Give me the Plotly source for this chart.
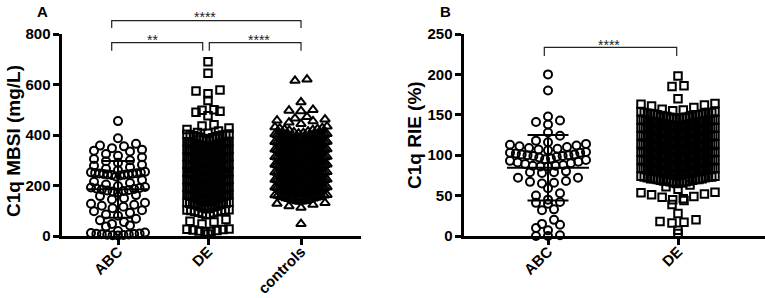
import numpy as np
import plotly.graph_objects as go

W, H = 765, 298

# ---------------- data ----------------
# Panel A: C1q MBSI (mg/L)
a_categories = ["ABC", "DE", "controls"]
a_abc = [455, 387, 365, 358, 355, 348, 342, 338, 335, 325, 318, 312, 305, 300, 296, 290,
         282, 278, 272, 266, 260,
         254, 252, 251, 250, 249, 248, 247, 246, 245, 244, 243, 242, 240, 236,
         222, 215, 210, 204, 198,
         194, 192, 190, 188, 186, 184, 182, 180, 178, 176, 172,
         162, 158, 150, 145, 132, 128, 124, 120, 116, 110, 102, 98, 92, 85, 80,
         68, 62, 55, 48, 42, 38, 20, 14, 12, 10, 9, 8, 7, 6, 5, 4, 3, 2]

a_de_high = [690, 645, 578, 574, 563, 537, 500, 498, 494, 490, 476, 441, 436,
             428, 422, 416, 410, 407,
             382, 386, 389, 391, 393, 395, 397, 398, 400, 401, 402, 403, 404, 379]
a_de_mid = [351, 366, 347, 372, 358, 355, 369, 361, 349, 363, 374, 352, 357, 368, 360, 346, 371, 354, 364, 359, 350, 373, 362, 356,
            322, 338, 316, 341, 329, 325, 335, 319, 344, 331, 327, 337, 320, 342, 333, 318, 339, 326, 330, 343, 324, 336, 321, 334,
            296, 288, 309, 301, 313, 292, 305, 286, 299, 311, 294, 303, 290, 307, 298, 314, 287, 302, 310, 295, 306, 291, 300, 312,
            264, 279, 258, 271, 283, 267, 275, 260, 281, 269, 256, 277, 263, 273, 284, 261, 270, 280, 266, 257, 274, 282, 268, 276,
            233, 248, 227, 241, 253, 236, 245, 229, 251, 239, 226, 244, 231, 247, 254, 238, 230, 243, 250, 235, 228, 246, 240, 252,
            203, 218, 197, 211, 223, 206, 215, 199, 221, 209, 196, 214, 201, 217, 224, 208, 200, 213, 220, 205, 198, 216, 210, 222,
            172, 188, 167, 181, 193, 176, 185, 169, 191, 179, 166, 184, 171, 187, 194, 178, 170, 183, 190, 175, 168, 186, 180, 192,
            143, 158, 137, 151, 163, 146, 155, 139, 161, 149, 136, 154, 141, 157, 164, 148, 140, 153, 160, 145, 138, 156, 150, 162]
a_de_low = [118, 127, 112, 131, 122, 108, 134, 125, 115, 129, 120, 110, 133, 124, 117, 130,
            86, 92, 96, 100, 103, 104, 89, 98, 101, 94, 84, 102,
            65, 58, 55, 48, 28, 27, 26, 24, 22, 20, 18, 16, 8]

a_ctrl_high = [620, 615, 530, 500, 497, 495, 472, 466,
               462, 458, 455, 450, 444,
               434, 431, 428, 426, 424, 422, 420, 418, 414, 411, 408, 406]
a_ctrl_mid = [381, 396, 377, 390, 403, 385, 399, 379, 393, 387, 402, 383, 397, 376, 391, 404, 386, 380, 395, 389, 400, 378, 392, 384, 398, 388,
              351, 366, 347, 372, 358, 355, 369, 361, 349, 363, 374, 352, 357, 368, 360, 346, 371, 354, 364, 359, 350, 373, 362, 356, 348, 367,
              319, 334, 325, 341, 316, 329, 338, 322, 344, 331, 327, 336, 318, 342, 333, 320, 339, 326, 330, 343, 324, 337, 321, 335, 317, 340,
              293, 307, 288, 312, 300, 296, 304, 286, 310, 298, 291, 306, 302, 289, 313, 295, 308, 299, 287, 311, 303, 292, 305, 297, 314, 301,
              262, 277, 258, 283, 270, 266, 274, 256, 280, 268, 261, 276, 272, 259, 284, 265, 278, 269, 257, 281, 273, 263, 275, 267, 282, 271,
              232, 247, 228, 253, 240, 236, 244, 226, 250, 238, 231, 246, 242, 229, 254, 235, 248, 239, 227, 251, 243, 233, 245, 237, 252, 241,
              202, 217, 198, 223, 210, 206, 214, 196, 220, 208, 201, 216, 212, 199, 224, 205, 218, 209, 197, 221, 213, 203, 215, 207, 222, 211,
              172, 187, 168, 193, 180, 176, 184, 166, 190, 178, 171, 186, 182, 169, 194, 175, 188, 179, 167, 191, 183, 173, 185, 177, 192, 181]
a_ctrl_low = [138, 152, 144, 160, 136, 149, 157, 141, 163, 146, 154, 139, 161, 150, 143, 158, 137, 155, 147, 162,
              118, 124, 128, 112, 131, 48]

# Panel B: C1q RIE (%)
b_categories = ["ABC", "DE"]
b_abc = [200, 180, 148, 143, 141, 138, 128, 124, 118, 116,
         114, 113, 112, 111, 110, 109, 108, 107, 106,
         104, 103, 103, 102, 101, 101, 100, 100, 99, 99, 98, 97, 96, 95,
         94, 93, 92, 91, 90, 89, 88, 87, 87, 86, 86,
         80, 79, 79, 78, 72, 72, 68, 67, 66, 65, 59, 53, 50, 45, 42, 41, 40,
         33, 32, 20, 15, 14, 10, 7, 1, 0, 0]
b_de_high = [198, 186, 185, 170, 164, 163, 161, 159, 157, 156, 155, 162,
             146, 150, 148, 153, 147, 151, 154, 149, 146, 152, 150, 148, 153, 147, 151, 145, 149, 154, 152, 148, 150, 146, 153, 151]
b_de_mid = [136, 141, 138, 144, 139, 142, 135, 143, 137, 140, 144, 136, 141, 139, 143, 138, 142, 135, 140, 137, 144, 139, 141, 136, 143, 138, 142, 140, 137, 144, 139, 141, 136, 143,
            127, 132, 125, 130, 134, 128, 131, 126, 133, 129, 134, 127, 130, 132, 125, 129, 133, 128, 131, 126, 134, 130, 127, 132, 129, 133, 126, 131, 128, 134, 125, 130, 132, 129,
            118, 123, 116, 121, 124, 119, 115, 122, 117, 120, 124, 118, 121, 116, 123, 119, 122, 115, 120, 117, 124, 121, 118, 123, 116, 122, 119, 120, 117, 124, 121, 118, 123, 120,
            106, 111, 108, 114, 109, 112, 105, 113, 107, 110, 114, 106, 111, 109, 113, 108, 112, 105, 110, 107, 114, 109, 111, 106, 113, 108, 112, 110, 107, 114, 109, 111, 106, 113,
            97, 102, 95, 100, 104, 98, 101, 96, 103, 99, 104, 97, 100, 102, 95, 99, 103, 98, 101, 96, 104, 100, 97, 102, 99, 103, 96, 101, 98, 104, 95, 100, 102, 99,
            88, 93, 86, 91, 94, 89, 85, 92, 87, 90, 94, 88, 91, 86, 93, 89, 92, 85, 90, 87, 94, 91, 88, 93, 86, 92, 89, 90, 87, 94, 91, 88, 93, 90,
            76, 81, 78, 84, 79, 82, 75, 83, 77, 80, 84, 76, 81, 79, 83, 78, 82, 75, 80, 77, 84, 79, 81, 76, 83, 78, 82, 80, 77, 84, 79, 81, 76, 83]
b_de_low = [66, 70, 68, 73, 67, 71, 74, 69, 66, 72, 70, 68, 73, 67, 71, 65, 69, 74, 72, 68, 70, 66, 73, 71,
            58, 61, 63, 54, 53.5, 52, 51, 49, 48, 46, 45, 44, 39, 28, 20, 18, 17, 16, 7, 3]

a_ticks = [0, 200, 400, 600, 800]
b_ticks = [0, 50, 100, 150, 200, 250]

# ---------------- layout helpers ----------------
FONT = "Liberation Sans, Arial, sans-serif"
A_X0, A_X1 = 61.5, 361    # pixel extent of panel A x axis
B_X0, B_X1 = 463.5, 765
Y_TOP, Y_BOT = 34, 236    # pixel extent of the y axes
a_pos = [56.5, 146.5, 239.5]    # category centres (in px from axis start)
b_pos = [84.5, 214.5]
LW = 2.0


def swarm(vals, centre, bin_h, max_off, step=12.0):
    """Prism-like column scatter: bin values into rows, spread each row."""
    v = np.asarray(vals, dtype=float)
    rows = np.floor(v / bin_h + 0.5).astype(int)
    x = np.zeros(len(v))
    for r in np.unique(rows):
        idx = np.where(rows == r)[0]
        idx = idx[np.argsort(v[idx], kind="stable")]
        n = len(idx)
        sp = step if n <= 1 else min(step, 2 * max_off / (n - 1))
        offs = (np.arange(n) - (n - 1) / 2) * sp
        order = np.argsort(np.abs(offs), kind="stable")
        x[idx] = offs[order]
    return centre + x, v


def p2x(px):
    return px / W


def p2y(py):
    return 1 - py / H


fig = go.Figure()

groups = [
    ("x", "y", a_pos[0], a_abc, 30, 27, "circle-open", 8),
    ("x", "y", a_pos[1], a_de_high + a_de_mid + a_de_low, 30, 21, "square-open", 7.5),
    ("x", "y", a_pos[2], a_ctrl_high + a_ctrl_mid + a_ctrl_low, 30, 26, "triangle-up-open", 8.5),
    ("x2", "y2", b_pos[0], b_abc, 10, 38, "circle-open", 8),
    ("x2", "y2", b_pos[1], b_de_high + b_de_mid + b_de_low, 10, 37, "square-open", 7.5),
]

for xa, ya, c, vals, bh, mo, sym, sz in groups:
    xs, ys = swarm(vals, c, bh, mo)
    fig.add_trace(go.Scatter(
        x=xs, y=ys, xaxis=xa, yaxis=ya, mode="markers", cliponaxis=False,
        marker=dict(symbol=sym, size=sz, color="black", line=dict(width=LW, color="black")),
        showlegend=False, hoverinfo="y"))

# mean +/- SD bars
for xa, ya, c, vals, bh, mo, sym, sz in groups:
    v = np.asarray(vals, dtype=float)
    m, s = v.mean(), v.std(ddof=1)
    hw = mo + 3
    cw = hw / 2
    lx = [c - hw, c + hw, None, c, c, None, c - cw, c + cw, None, c - cw, c + cw]
    ly = [m, m, None, m - s, m + s, None, m + s, m + s, None, m - s, m - s]
    fig.add_trace(go.Scatter(x=lx, y=ly, xaxis=xa, yaxis=ya, mode="lines", cliponaxis=False,
                             line=dict(color="black", width=2), showlegend=False, hoverinfo="skip"))

ydom = [p2y(Y_BOT), p2y(Y_TOP)]
axis_common = dict(showgrid=False, zeroline=False, showline=True, linecolor="black", linewidth=3,
                   ticks="outside", ticklen=6, tickwidth=2.5, tickcolor="black", automargin=False)

fig.update_layout(
    width=W, height=H, margin=dict(l=0, r=0, t=0, b=0),
    paper_bgcolor="white", plot_bgcolor="white",
    font=dict(family=FONT, color="black"),
    xaxis=dict(domain=[p2x(A_X0), p2x(A_X1)], range=[0, A_X1 - A_X0], anchor="y",
               tickvals=a_pos, ticktext=a_categories, tickangle=-45, ticklabelstandoff=-8,
               tickfont=dict(family=FONT, size=15, weight="bold"), **axis_common),
    yaxis=dict(domain=ydom, range=[0, 800], anchor="x", tickvals=a_ticks, ticklabelstandoff=-1,
               tickfont=dict(family=FONT, size=15, weight="bold"), **axis_common),
    xaxis2=dict(domain=[p2x(B_X0), p2x(B_X1)], range=[0, B_X1 - B_X0], anchor="y2",
                tickvals=b_pos, ticktext=b_categories, tickangle=-45, ticklabelstandoff=-8,
                tickfont=dict(family=FONT, size=15, weight="bold"), **axis_common),
    yaxis2=dict(domain=ydom, range=[0, 250], anchor="x2", tickvals=b_ticks, ticklabelstandoff=-1,
                tickfont=dict(family=FONT, size=15, weight="bold"), **axis_common),
)

# significance brackets
brackets = [
    (111.7, 301, 20.7, 28), (111.7, 202.7, 42.7, 50.7), (209.3, 301, 42.7, 50.7),
    (544.3, 676.7, 47.3, 56),
]
for x0, x1, yt, yb in brackets:
    path = "M {} {} L {} {} L {} {} L {} {}".format(
        p2x(x0), p2y(yb), p2x(x0), p2y(yt), p2x(x1), p2y(yt), p2x(x1), p2y(yb))
    fig.add_shape(type="path", path=path, xref="paper", yref="paper",
                  line=dict(color="#222", width=1.2))

stars = [("****", 205, 13.3), ("**", 152.7, 36), ("****", 259, 36), ("****", 609, 41.7)]
for txt, sx, sy in stars:
    fig.add_annotation(text=txt, x=p2x(sx), y=p2y(sy + 3.5), xref="paper", yref="paper",
                       xanchor="center", yanchor="middle", showarrow=False,
                       font=dict(family=FONT, size=14, color="#222"))

# axis titles and panel letters
fig.add_annotation(text="C1q MBSI (mg/L)", x=p2x(13), y=p2y(141), xref="paper", yref="paper",
                   textangle=-90, showarrow=False, xanchor="center", yanchor="middle",
                   font=dict(family=FONT, size=19, weight="bold"))
fig.add_annotation(text="C1q RIE (%)", x=p2x(414), y=p2y(135), xref="paper", yref="paper",
                   textangle=-90, showarrow=False, xanchor="center", yanchor="middle",
                   font=dict(family=FONT, size=19, weight="bold"))
fig.add_annotation(text="A", x=p2x(42), y=p2y(11), xref="paper", yref="paper",
                   showarrow=False, xanchor="center", yanchor="middle",
                   font=dict(family=FONT, size=15, weight="bold"))
fig.add_annotation(text="B", x=p2x(445), y=p2y(12), xref="paper", yref="paper",
                   showarrow=False, xanchor="center", yanchor="middle",
                   font=dict(family=FONT, size=15, weight="bold"))

# place the figure at the page's top-left corner (no default body margin)
fig.write_html("out.html", config={"displayModeBar": False},
               post_script="document.body.style.margin='0';")
